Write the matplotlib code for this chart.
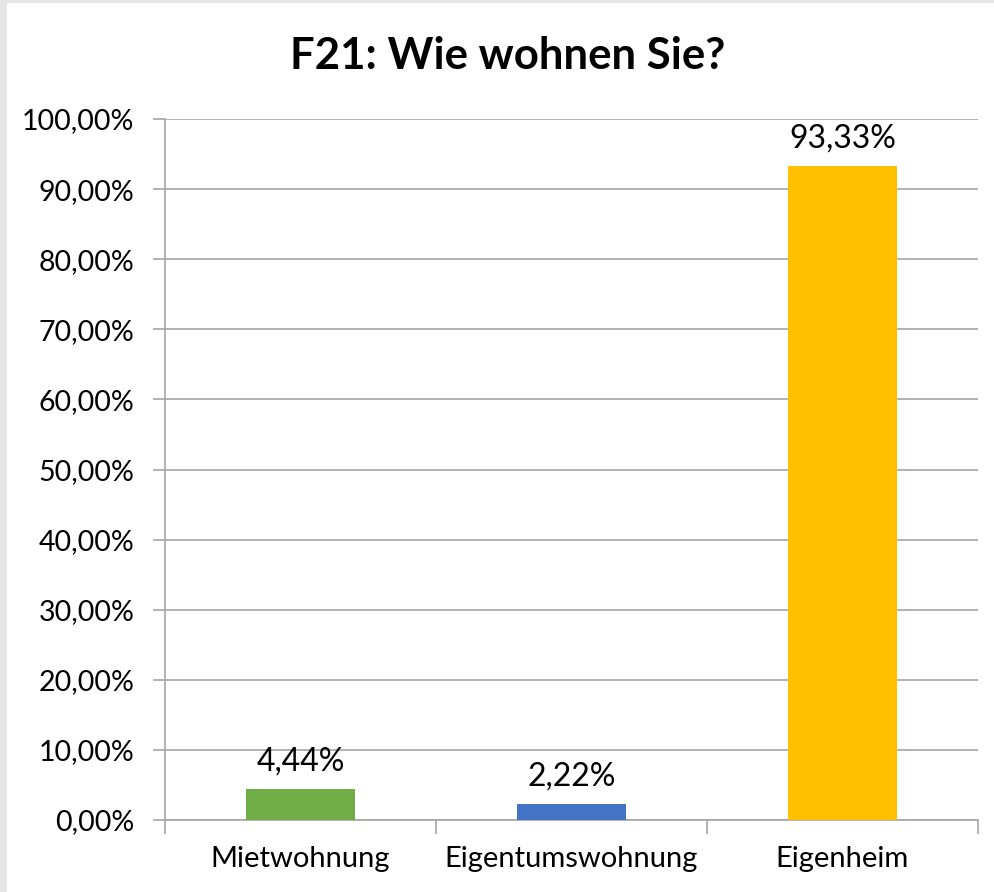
import matplotlib
matplotlib.use('Agg')
import matplotlib.pyplot as plt
from matplotlib.patches import Rectangle
from matplotlib.ticker import FuncFormatter

plt.rcParams['font.family'] = ['Lato', 'DejaVu Sans']

# data
categories = ['Mietwohnung', 'Eigentumswohnung', 'Eigenheim']
values = [4.44, 2.22, 93.33]
bar_colors = ['#70ad47', '#4472c4', '#ffc000']
title = 'F21: Wie wohnen Sie?'

fig = plt.figure(figsize=(9.94, 8.92), dpi=100)
fig.patch.set_facecolor('#e6e6e6')
# white chart area with a thin grey frame on left/top
fig.patches.append(Rectangle((7/994, 0), 1, 1 - 3/892, transform=fig.transFigure,
                             facecolor='white', edgecolor='none', zorder=-5))

ax = fig.add_axes([165/994, 1 - 820/892, (978 - 165)/994, (820 - 119)/892])
ax.set_facecolor('white')

x = list(range(len(categories)))
bars = ax.bar(x, values, width=0.4, color=bar_colors, zorder=3)

for xi, v in zip(x, values):
    ax.text(xi, v + 1.8, f'{v:.2f}%'.replace('.', ','), ha='center', va='bottom',
            fontsize=23, color='#000000')

ax.set_xlim(-0.5, 2.5)
ax.set_ylim(0, 100)
ax.set_yticks(range(0, 101, 10))
ax.yaxis.set_major_formatter(FuncFormatter(lambda v, p: f'{v:.2f}%'.replace('.', ',')))
ax.set_xticks(x)
ax.set_xticklabels(categories)
ax.set_xticks([-0.5, 0.5, 1.5, 2.5], minor=True)

ax.grid(axis='y', color='#a6a6a6', linewidth=1.2, zorder=0)
for s in ['top', 'right']:
    ax.spines[s].set_visible(False)
ax.spines['left'].set_color('#a6a6a6')
ax.spines['bottom'].set_color('#a6a6a6')
ax.spines['left'].set_linewidth(1.2)
ax.spines['bottom'].set_linewidth(1.2)

ax.tick_params(axis='y', length=9, width=1.2, color='#a6a6a6', labelsize=20.5, pad=13)
ax.tick_params(axis='x', which='major', length=0, labelsize=21, pad=19)
ax.tick_params(axis='x', which='minor', length=10, width=1.2, color='#a6a6a6')

fig.text(508/994, 1 - 56/892, title, ha='center', va='center', fontsize=31.5,
         fontweight='bold', color='#000000')

fig.savefig('out.png', dpi=100, facecolor=fig.get_facecolor())
